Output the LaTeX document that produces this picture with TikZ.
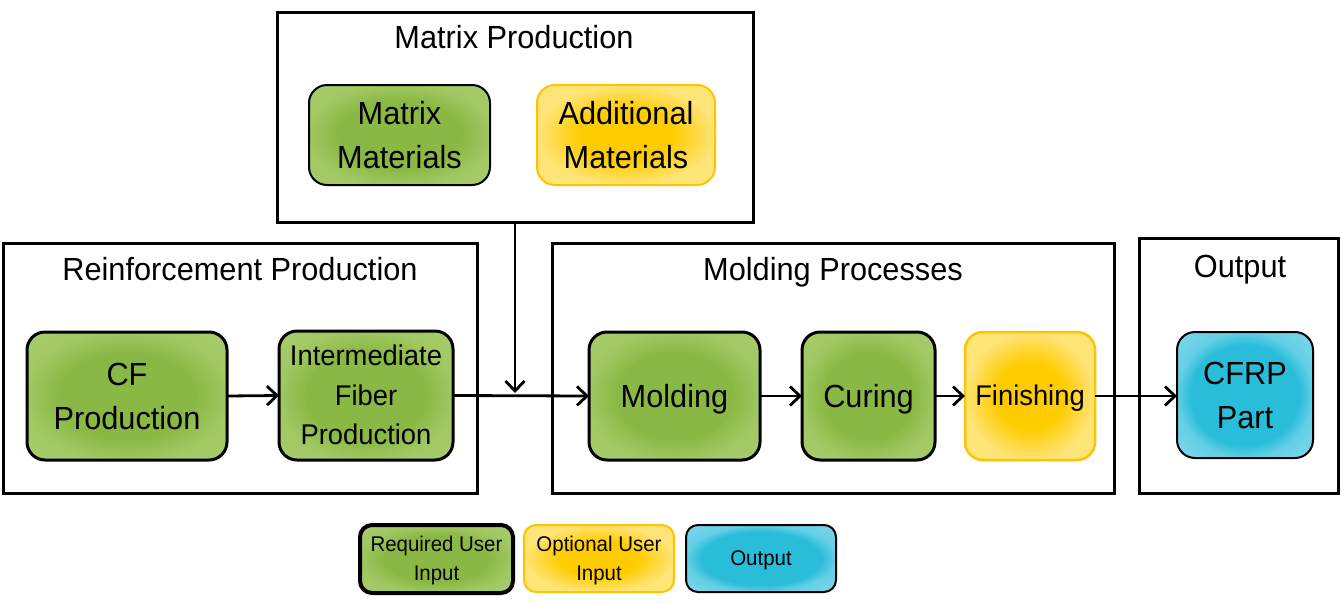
\documentclass[tikz,border=0pt]{standalone}
\usepackage{fontspec}
\setmainfont{Liberation Sans}[FakeStretch=0.96]
\usetikzlibrary{arrows.meta}
\newcommand\lnst{\rule[-0.212em]{0pt}{1.117em}}
\definecolor{gin}{RGB}{138,184,68}
\definecolor{gmid}{RGB}{160,200,98}
\definecolor{gout}{RGB}{180,212,125}
\definecolor{yin}{RGB}{255,204,0}
\definecolor{yout}{RGB}{255,228,120}
\definecolor{yborder}{RGB}{255,196,0}
\definecolor{cin}{RGB}{42,189,218}
\definecolor{cmid}{RGB}{100,207,230}
\definecolor{cout}{RGB}{165,226,240}
\pgfdeclareradialshading{gshade}{\pgfpoint{0bp}{0bp}}{color(0bp)=(gin);color(17bp)=(gin);color(25bp)=(gmid);color(50bp)=(gout)}
\pgfdeclareradialshading{yshade}{\pgfpoint{0bp}{0bp}}{color(0bp)=(yin);color(13bp)=(yin);color(25bp)=(yout);color(50bp)=(yout)}
\pgfdeclareradialshading{cshade}{\pgfpoint{0bp}{0bp}}{color(0bp)=(cin);color(20bp)=(cin);color(25bp)=(cmid);color(50bp)=(cout)}
\begin{document}
\begin{tikzpicture}[x=1pt,y=-1pt,
  box/.style={rounded corners=18pt, align=center, inner sep=0pt, outer sep=0pt,
    font=\fontsize{32}{44}\selectfont},
  gbox/.style={box, draw=black, line width=3pt, shading=gshade},
  ybox/.style={box, draw=yborder, line width=2pt, shading=yshade},
  cbox/.style={box, draw=black, line width=2pt, shading=cshade},
  cont/.style={draw=black, line width=3pt, inner sep=0pt, outer sep=0pt},
  ttl/.style={font=\fontsize{32}{36}\selectfont, inner sep=0pt, anchor=base},
  leg/.style={font=\fontsize{21.3}{29}\selectfont},
  arr/.style={-{Straight Barb[length=10pt,width=19pt,line width=2.8pt]}, line width=2.8pt}
]
\useasboundingbox (0,0) rectangle (1342,603);
% containers
\node[cont, minimum width=476pt, minimum height=210pt] (mp) at (515,117) {};
\node[cont, minimum width=474pt, minimum height=250pt] (rp) at (240,368) {};
\node[cont, minimum width=562pt, minimum height=250pt] (mop) at (833,368) {};
\node[cont, minimum width=199pt, minimum height=255pt] (op) at (1238.5,365.5) {};
\node[ttl] (mpt) at (514,48) {Matrix Production};
\node[ttl] (rpt) at (240,280) {Reinforcement Production};
\node[ttl] (mopt) at (833,280) {Molding Processes};
\node[ttl] (opt) at (1240,277) {Output};
% process boxes
\node[gbox, line width=2pt, minimum width=181pt, minimum height=100pt] (mm) at (399.5,135) {\lnst Matrix\\\lnst Materials};
\node[ybox, minimum width=178pt, minimum height=100pt] (am) at (626,135) {\lnst Additional\\\lnst Materials};
\node[gbox, minimum width=200pt, minimum height=128pt] (cf) at (127,396) {\lnst CF\\\lnst Production};
\node[gbox, minimum width=174pt, minimum height=129pt, font=\fontsize{28.5}{39.5}\selectfont] (ifp) at (366,395.5) {\lnst Intermediate\\\lnst Fiber\\\lnst Production};
\node[gbox, minimum width=171pt, minimum height=128pt] (mold) at (674.5,396) {\lnst Molding};
\node[gbox, minimum width=133pt, minimum height=128pt] (cure) at (868.5,396) {\lnst Curing};
\node[ybox, line width=2.5pt, minimum width=130pt, minimum height=128pt, font=\fontsize{28.5}{36}\selectfont] (fin) at (1030,396) {\lnst Finishing};
\node[cbox, minimum width=136pt, minimum height=126pt] (cfrp) at (1245,395) {\lnst CFRP\\\lnst Part};
% legend
\node[gbox, leg, line width=4pt, rounded corners=12pt, minimum width=153pt, minimum height=68pt] (l1) at (436.5,559) {\lnst Required User\\\lnst Input};
\node[ybox, leg, rounded corners=12pt, minimum width=150pt, minimum height=67pt] (l2) at (599,558.5) {\lnst Optional User\\\lnst Input};
\node[cbox, leg, rounded corners=12pt, minimum width=150pt, minimum height=67pt] (l3) at (761,558.5) {\lnst Output};
% connectors
\coordinate (j) at (515,393);
\draw[arr] (cf.east) -- (ifp.west);
\draw[arr] (ifp.east) -- (mold.west);
\draw[arr] (mp.south) -- (j);
\draw[arr] (mold.east) -- (cure.west);
\draw[arr] (cure.east) -- (fin.west);
\draw[arr] (fin.east) -- (cfrp.west |- fin.east);
\end{tikzpicture}
\end{document}
